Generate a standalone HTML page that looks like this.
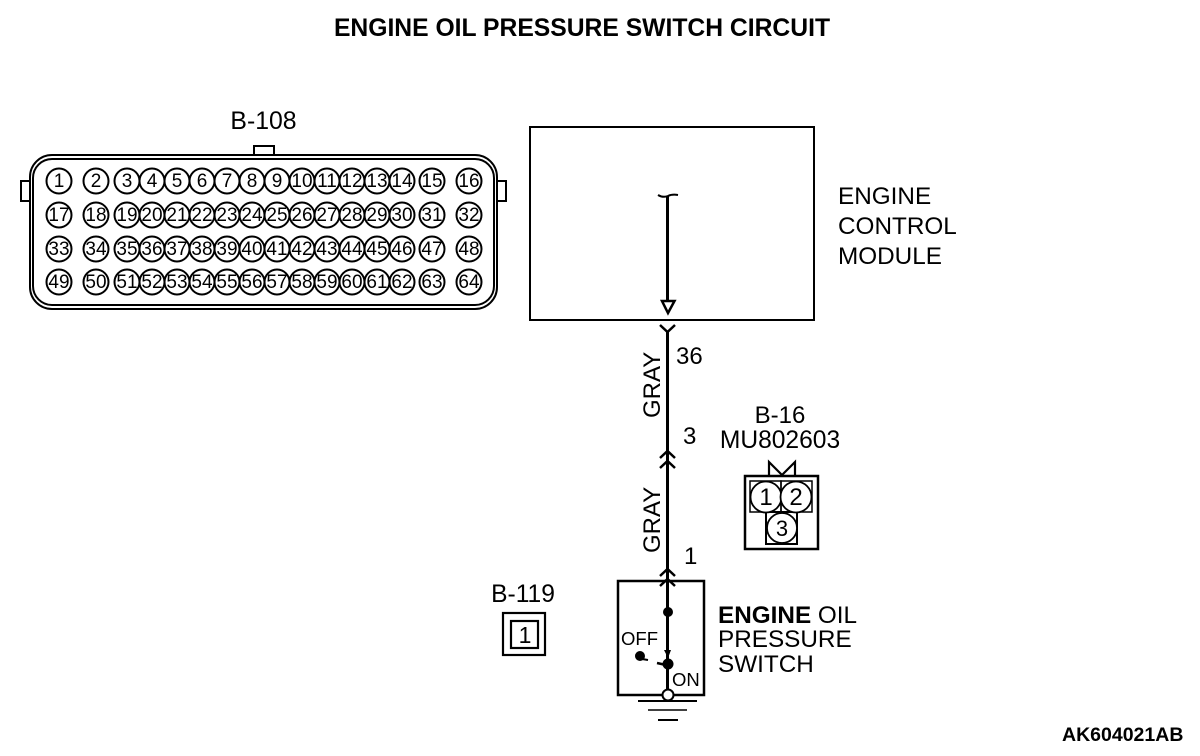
<!DOCTYPE html>
<html><head><meta charset="utf-8"><style>
html,body{margin:0;padding:0;background:#fff}
svg{display:block}
text{font-family:"Liberation Sans",sans-serif;fill:#000}
.n text{font-size:19px;text-anchor:middle}
.n circle{fill:#fff;stroke:#000;stroke-width:2}
</style></head><body>
<svg width="1200" height="756" viewBox="0 0 1200 756" xmlns="http://www.w3.org/2000/svg">
<rect width="1200" height="756" fill="#fff"/>
<text x="582" y="36" font-size="24.7" font-weight="bold" text-anchor="middle">ENGINE OIL PRESSURE SWITCH CIRCUIT</text>
<text x="263.500" y="129" font-size="24.800" text-anchor="middle">B-108</text>

<g fill="#fff" stroke="#000" stroke-width="2">
<rect x="254" y="146" width="20" height="10"/>
<rect x="21" y="181" width="10" height="20"/>
<rect x="497" y="181" width="9" height="20"/>
<rect x="30" y="155" width="467" height="154" rx="22"/>
<rect x="33" y="159" width="461" height="146" rx="19"/>
</g>

<g class="n">
<circle cx="59" cy="181" r="12.5"/><circle cx="96" cy="181" r="12.5"/><circle cx="127" cy="181" r="12.5"/><circle cx="152" cy="181" r="12.5"/><circle cx="177" cy="181" r="12.5"/><circle cx="202" cy="181" r="12.5"/><circle cx="227" cy="181" r="12.5"/><circle cx="252" cy="181" r="12.5"/><circle cx="277" cy="181" r="12.5"/><circle cx="302" cy="181" r="12.5"/><circle cx="327" cy="181" r="12.5"/><circle cx="352" cy="181" r="12.5"/><circle cx="377" cy="181" r="12.5"/><circle cx="402" cy="181" r="12.5"/><circle cx="432" cy="181" r="12.5"/><circle cx="469" cy="181" r="12.5"/>
<circle cx="59" cy="215" r="12.5"/><circle cx="96" cy="215" r="12.5"/><circle cx="127" cy="215" r="12.5"/><circle cx="152" cy="215" r="12.5"/><circle cx="177" cy="215" r="12.5"/><circle cx="202" cy="215" r="12.5"/><circle cx="227" cy="215" r="12.5"/><circle cx="252" cy="215" r="12.5"/><circle cx="277" cy="215" r="12.5"/><circle cx="302" cy="215" r="12.5"/><circle cx="327" cy="215" r="12.5"/><circle cx="352" cy="215" r="12.5"/><circle cx="377" cy="215" r="12.5"/><circle cx="402" cy="215" r="12.5"/><circle cx="432" cy="215" r="12.5"/><circle cx="469" cy="215" r="12.5"/>
<circle cx="59" cy="249" r="12.5"/><circle cx="96" cy="249" r="12.5"/><circle cx="127" cy="249" r="12.5"/><circle cx="152" cy="249" r="12.5"/><circle cx="177" cy="249" r="12.5"/><circle cx="202" cy="249" r="12.5"/><circle cx="227" cy="249" r="12.5"/><circle cx="252" cy="249" r="12.5"/><circle cx="277" cy="249" r="12.5"/><circle cx="302" cy="249" r="12.5"/><circle cx="327" cy="249" r="12.5"/><circle cx="352" cy="249" r="12.5"/><circle cx="377" cy="249" r="12.5"/><circle cx="402" cy="249" r="12.5"/><circle cx="432" cy="249" r="12.5"/><circle cx="469" cy="249" r="12.5"/>
<circle cx="59" cy="282" r="12.5"/><circle cx="96" cy="282" r="12.5"/><circle cx="127" cy="282" r="12.5"/><circle cx="152" cy="282" r="12.5"/><circle cx="177" cy="282" r="12.5"/><circle cx="202" cy="282" r="12.5"/><circle cx="227" cy="282" r="12.5"/><circle cx="252" cy="282" r="12.5"/><circle cx="277" cy="282" r="12.5"/><circle cx="302" cy="282" r="12.5"/><circle cx="327" cy="282" r="12.5"/><circle cx="352" cy="282" r="12.5"/><circle cx="377" cy="282" r="12.5"/><circle cx="402" cy="282" r="12.5"/><circle cx="432" cy="282" r="12.5"/><circle cx="469" cy="282" r="12.5"/>
<text x="59" y="187">1</text><text x="96" y="187">2</text><text x="127" y="187">3</text><text x="152" y="187">4</text><text x="177" y="187">5</text><text x="202" y="187">6</text><text x="227" y="187">7</text><text x="252" y="187">8</text><text x="277" y="187">9</text><text x="302" y="187">10</text><text x="327" y="187">11</text><text x="352" y="187">12</text><text x="377" y="187">13</text><text x="402" y="187">14</text><text x="432" y="187">15</text><text x="469" y="187">16</text>
<text x="59" y="221">17</text><text x="96" y="221">18</text><text x="127" y="221">19</text><text x="152" y="221">20</text><text x="177" y="221">21</text><text x="202" y="221">22</text><text x="227" y="221">23</text><text x="252" y="221">24</text><text x="277" y="221">25</text><text x="302" y="221">26</text><text x="327" y="221">27</text><text x="352" y="221">28</text><text x="377" y="221">29</text><text x="402" y="221">30</text><text x="432" y="221">31</text><text x="469" y="221">32</text>
<text x="59" y="255">33</text><text x="96" y="255">34</text><text x="127" y="255">35</text><text x="152" y="255">36</text><text x="177" y="255">37</text><text x="202" y="255">38</text><text x="227" y="255">39</text><text x="252" y="255">40</text><text x="277" y="255">41</text><text x="302" y="255">42</text><text x="327" y="255">43</text><text x="352" y="255">44</text><text x="377" y="255">45</text><text x="402" y="255">46</text><text x="432" y="255">47</text><text x="469" y="255">48</text>
<text x="59" y="288">49</text><text x="96" y="288">50</text><text x="127" y="288">51</text><text x="152" y="288">52</text><text x="177" y="288">53</text><text x="202" y="288">54</text><text x="227" y="288">55</text><text x="252" y="288">56</text><text x="277" y="288">57</text><text x="302" y="288">58</text><text x="327" y="288">59</text><text x="352" y="288">60</text><text x="377" y="288">61</text><text x="402" y="288">62</text><text x="432" y="288">63</text><text x="469" y="288">64</text>
</g>

<!-- ECM -->
<rect x="530" y="127" width="284" height="193" fill="none" stroke="#000" stroke-width="2"/>
<path d="M658 195 Q663 198 668 196 Q672 194 678 195" fill="none" stroke="#000" stroke-width="2"/>
<line x1="667.500" y1="196" x2="667.500" y2="302" stroke="#000" stroke-width="3"/>
<path d="M662 301 H674.500 L668 313 Z" fill="#fff" stroke="#000" stroke-width="2.500"/>
<text x="838" y="204" font-size="24.300">ENGINE</text>
<text x="838" y="234" font-size="24.300">CONTROL</text>
<text x="838" y="264" font-size="24.300">MODULE</text>

<!-- wire -->
<line x1="667.500" y1="331" x2="667.500" y2="690" stroke="#000" stroke-width="3"/>
<path d="M660 325 L667.500 332 L675 325" fill="none" stroke="#000" stroke-width="2.500"/>
<path d="M660 458 L667.500 451 L675 458 M660 468 L667.500 461 L675 468" fill="none" stroke="#000" stroke-width="2.500"/>
<path d="M660 576 L667.500 569 L675 576 M660 586 L667.500 579 L675 586" fill="none" stroke="#000" stroke-width="2.500"/>
<text x="676" y="364" font-size="24">36</text>
<text x="683" y="444" font-size="24">3</text>
<text x="684" y="564" font-size="24">1</text>
<text transform="translate(660 418) rotate(-90)" font-size="24">GRAY</text>
<text transform="translate(660 553) rotate(-90)" font-size="24">GRAY</text>

<!-- B-16 -->
<text x="780" y="423" font-size="24" text-anchor="middle">B-16</text>
<text x="780" y="448" font-size="24.600" text-anchor="middle">MU802603</text>
<path d="M769 476 V462 L782 475 L795 462 V476" fill="none" stroke="#000" stroke-width="2.200"/>
<rect x="745" y="476" width="73" height="73" fill="#fff" stroke="#000" stroke-width="2.500"/>
<rect x="750" y="481" width="31" height="31" fill="none" stroke="#000" stroke-width="1.500"/>
<rect x="781" y="481" width="31" height="31" fill="none" stroke="#000" stroke-width="1.500"/>
<rect x="766" y="512" width="31" height="32" fill="none" stroke="#000" stroke-width="2"/>
<g fill="#fff" stroke="#000" stroke-width="1.800">
<circle cx="766" cy="497" r="15.500"/><circle cx="796" cy="497" r="15.500"/><circle cx="782" cy="528" r="15"/>
</g>
<text x="766" y="505" font-size="24" text-anchor="middle">1</text>
<text x="796" y="505" font-size="24" text-anchor="middle">2</text>
<text x="782" y="536" font-size="22" text-anchor="middle">3</text>

<!-- B-119 -->
<text x="523" y="602" font-size="24.600" text-anchor="middle">B-119</text>
<rect x="503" y="613" width="42" height="42" fill="none" stroke="#000" stroke-width="2.200"/>
<rect x="511" y="621" width="27" height="27" fill="none" stroke="#000" stroke-width="2.200"/>
<text x="525" y="643" font-size="23" text-anchor="middle">1</text>

<!-- switch -->
<rect x="618" y="581" width="86" height="114" fill="none" stroke="#000" stroke-width="2.500"/>
<circle cx="668" cy="612" r="5" fill="#000"/>
<circle cx="668" cy="664" r="5.500" fill="#000"/>
<path d="M664 650 H671 L668 658 Z" fill="#000"/>
<path d="M657 663 L666 665" stroke="#000" stroke-width="2.500"/>
<circle cx="640" cy="656" r="5" fill="#000"/>
<path d="M642 659 L648 660" stroke="#000" stroke-width="2"/>
<text x="621" y="645" font-size="18.500">OFF</text>
<text x="672" y="686" font-size="18.500">ON</text>
<circle cx="668" cy="695" r="5.500" fill="#fff" stroke="#000" stroke-width="2"/>
<line x1="638" y1="701" x2="697" y2="701" stroke="#000" stroke-width="2"/>
<line x1="648" y1="710" x2="687" y2="710" stroke="#000" stroke-width="1.500"/>
<line x1="658" y1="720" x2="678" y2="720" stroke="#000" stroke-width="2"/>
<text x="718" y="623" font-size="24.300"><tspan font-weight="bold">ENGINE</tspan> OIL</text>
<text x="718" y="647" font-size="24.300">PRESSURE</text>
<text x="718" y="672" font-size="24.300">SWITCH</text>

<text x="1062" y="741" font-size="19.500" font-weight="bold">AK604021AB</text>
</svg>
</body></html>
